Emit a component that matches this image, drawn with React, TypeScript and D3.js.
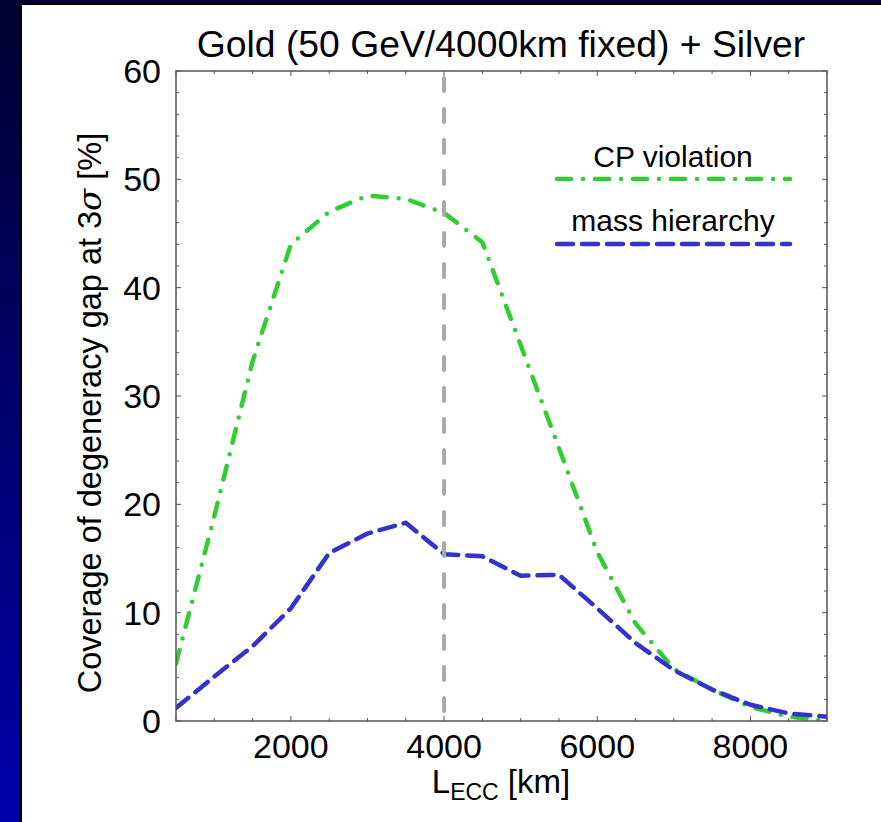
import React from "react";
import * as d3 from "d3";

// Baseline lengths (km) at which the coverage was evaluated
const baselines = [500, 1000, 1500, 2000, 2500, 3000, 3500, 4000, 4500, 5000, 5500, 6000, 6500, 7000, 7500, 8000, 8500, 9000];
// Coverage of the degeneracy gap at 3 sigma [%]
const cpViolation = [5.3, 18.9, 33.2, 44.0, 47.0, 48.5, 48.2, 46.9, 44.2, 34.7, 25.2, 15.6, 9.0, 4.8, 2.9, 1.3, 0.4, 0.0];
const massHierarchy = [1.2, 4.1, 6.9, 10.4, 15.5, 17.3, 18.3, 15.4, 15.2, 13.4, 13.5, 10.4, 7.2, 4.7, 2.9, 1.5, 0.7, 0.4];

const xTickLabels = [2000, 4000, 6000, 8000];
const yTickLabels = [0, 10, 20, 30, 40, 50, 60];
const fixedBaseline = 4000;

const W = 881;
const H = 822;
const M = { left: 176, right: 827, top: 71, bottom: 721 };
const FONT = "'Liberation Sans', Arial, Helvetica, sans-serif";

export default function App() {
  const x = d3.scaleLinear().domain([500, 9000]).range([M.left, M.right]);
  const y = d3.scaleLinear().domain([0, 60]).range([M.bottom, M.top]);

  const line = d3
    .line<number>()
    .x((_, i) => x(baselines[i]))
    .y((d) => y(d));

  const xMinor = d3.range(500, 9001, 500);
  const yMinor = d3.range(0, 61, 2);

  const frame = "#555";

  return (
    <svg
      width={W}
      height={H}
      style={{ position: "absolute", left: 0, top: 0, display: "block" }}
    >
      <defs>
        <linearGradient id="bg" x1="0" y1="0" x2="0" y2="1">
          <stop offset="0" stopColor="#000030" />
          <stop offset="1" stopColor="#0000aa" />
        </linearGradient>
        <clipPath id="plot">
          <rect x={M.left} y={M.top} width={M.right - M.left} height={M.bottom - M.top} />
        </clipPath>
      </defs>

      <rect x={0} y={0} width={W} height={H} fill="url(#bg)" />
      <rect x={20} y={3} width={W - 20} height={H - 3} fill="#000" />
      <rect x={22} y={5} width={W - 22} height={H - 5} fill="#fff" />

      {/* ticks on all four sides */}
      <g stroke={frame} strokeWidth={1}>
        {xMinor.map((v) => {
          const len = v % 2000 === 0 ? 5 : 3;
          return (
            <g key={"xt" + v}>
              <line x1={x(v)} x2={x(v)} y1={M.bottom} y2={M.bottom - len} />
              <line x1={x(v)} x2={x(v)} y1={M.top} y2={M.top + len} />
            </g>
          );
        })}
        {yMinor.map((v) => {
          const len = v % 10 === 0 ? 5 : 3;
          return (
            <g key={"yt" + v}>
              <line x1={M.left} x2={M.left + len} y1={y(v)} y2={y(v)} />
              <line x1={M.right} x2={M.right - len} y1={y(v)} y2={y(v)} />
            </g>
          );
        })}
      </g>

      <g clipPath="url(#plot)" fill="none" strokeLinecap="round" strokeLinejoin="round">
        <path
          d={line(cpViolation) || ""}
          stroke="#33cc33"
          strokeWidth={4.5}
          strokeDasharray="14 12 0 12"
        />
        <path
          d={line(massHierarchy) || ""}
          stroke="#3333cc"
          strokeWidth={4.5}
          strokeDasharray="16 9"
        />
        <line
          x1={x(fixedBaseline)}
          x2={x(fixedBaseline)}
          y1={M.top + 7}
          y2={M.bottom}
          stroke="#aaaaaa"
          strokeWidth={4}
          strokeDasharray="13 18"
        />
      </g>

      <rect
        x={M.left}
        y={M.top}
        width={M.right - M.left}
        height={M.bottom - M.top}
        fill="none"
        stroke={frame}
        strokeWidth={1.5}
      />

      {/* tick labels */}
      <g fontFamily={FONT} fontSize={34} fill="#000">
        {xTickLabels.map((v) => (
          <text key={"xl" + v} x={x(v)} y={758} textAnchor="middle">
            {v}
          </text>
        ))}
        {yTickLabels.map((v) => (
          <text key={"yl" + v} x={161} y={y(v) + 12} textAnchor="end">
            {v}
          </text>
        ))}
      </g>

      {/* title */}
      <text x={501} y={57} textAnchor="middle" fontFamily={FONT} fontSize={37.3}>
        Gold (50 GeV/4000km fixed) + Silver
      </text>

      {/* axis labels */}
      <text x={501} y={793} textAnchor="middle" fontFamily={FONT} fontSize={33}>
        L<tspan fontSize={23} dy={7}>ECC</tspan>
        <tspan dy={-7}> [km]</tspan>
      </text>
      <text
        transform="translate(101,413) rotate(-90)"
        textAnchor="middle"
        fontFamily={FONT}
        fontSize={32.5}
      >
        Coverage of degeneracy gap at 3<tspan fontStyle="italic" fontFamily="'DejaVu Serif', serif">σ</tspan> [%]
      </text>

      {/* legend */}
      <g fontFamily={FONT} fontSize={30} textAnchor="middle">
        <text x={673} y={167}>CP violation</text>
        <text x={673} y={231}>mass hierarchy</text>
      </g>
      <g strokeLinecap="round" strokeWidth={4.5}>
        <line x1={557} x2={790} y1={179} y2={179} stroke="#33cc33" strokeDasharray="14 12 0 12" />
        <line x1={557} x2={790} y1={244} y2={244} stroke="#3333cc" strokeDasharray="16 9" />
      </g>
    </svg>
  );
}
